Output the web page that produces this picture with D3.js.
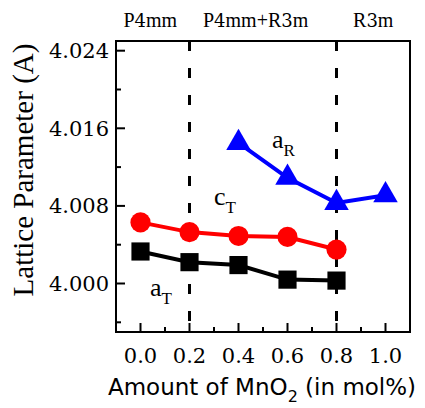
<!DOCTYPE html>
<html lang="en">
<head>
    <meta charset="UTF-8">
    <title>Lattice Parameter vs MnO2</title>
    <style>
        body {
            margin: 0;
            background-color: #fff;
        }
    </style>
    <script src="https://d3js.org/d3.v7.min.js"></script>
</head>
<body>
    <div id="chart"></div>
    <script>
        // MnO2 content (mol%)
        var xsT = [0.0, 0.2, 0.4, 0.6, 0.8];
        var xsR = [0.4, 0.6, 0.8, 1.0];
        // lattice parameters
        var aT = [4.0033, 4.0022, 4.0019, 4.0004, 4.0003];
        var cT = [4.0063, 4.0053, 4.0049, 4.0048, 4.0035];
        var aR = [4.0145, 4.0109, 4.0083, 4.0091];

        var xTicks = [0.0, 0.2, 0.4, 0.6, 0.8, 1.0];
        var yTicks = [4.000, 4.008, 4.016, 4.024];
        var phaseBounds = [0.2, 0.8];
        var phaseLabels = [
            {text: "P4mm", x: 0.04},
            {text: "P4mm+R3m", x: 0.47},
            {text: "R3m", x: 0.95}
        ];

        var serif = "'Liberation Serif', 'Times New Roman', serif";
        // digits come out sans in Liberation Serif here, so numbers use DejaVu Serif
        var numSerif = "'DejaVu Serif', serif";
        var sans = "'DejaVu Sans', Verdana, sans-serif";

        var width = 425, height = 408;
        var margin = {top: 41, right: 15, bottom: 76, left: 116};
        var iw = width - margin.left - margin.right;
        var ih = height - margin.top - margin.bottom;

        var svg = d3.select("#chart").append("svg")
            .attr("width", width)
            .attr("height", height)
            .style("font-family", serif);

        var g = svg.append("g")
            .attr("transform", "translate(" + margin.left + "," + margin.top + ")");

        var x = d3.scaleLinear().domain([-0.1, 1.1]).range([0, iw]);
        var y = d3.scaleLinear().domain([3.995, 4.025]).range([ih, 0]);

        // minor ticks
        var xMinor = [-0.1, 0.1, 0.3, 0.5, 0.7, 0.9, 1.1];
        var yMinor = [3.996, 4.004, 4.012, 4.020];

        // x axis ticks (inward)
        g.selectAll(".xmaj").data(xTicks).enter().append("line")
            .attr("x1", function(d) { return x(d); })
            .attr("x2", function(d) { return x(d); })
            .attr("y1", ih).attr("y2", ih - 9)
            .attr("stroke", "#000").attr("stroke-width", 2);
        g.selectAll(".xmin").data(xMinor).enter().append("line")
            .attr("x1", function(d) { return x(d); })
            .attr("x2", function(d) { return x(d); })
            .attr("y1", ih).attr("y2", ih - 5)
            .attr("stroke", "#000").attr("stroke-width", 2);
        g.selectAll(".xlab").data(xTicks).enter().append("text")
            .attr("x", function(d) { return x(d); })
            .attr("y", ih + 31)
            .attr("text-anchor", "middle")
            .style("font-family", numSerif)
            .style("font-size", "21px")
            .text(function(d) { return d3.format(".1f")(d); });

        // y axis ticks (inward)
        g.selectAll(".ymaj").data(yTicks).enter().append("line")
            .attr("x1", 0).attr("x2", 9)
            .attr("y1", function(d) { return y(d); })
            .attr("y2", function(d) { return y(d); })
            .attr("stroke", "#000").attr("stroke-width", 2);
        g.selectAll(".ymin").data(yMinor).enter().append("line")
            .attr("x1", 0).attr("x2", 5)
            .attr("y1", function(d) { return y(d); })
            .attr("y2", function(d) { return y(d); })
            .attr("stroke", "#000").attr("stroke-width", 2);
        g.selectAll(".ylab").data(yTicks).enter().append("text")
            .attr("x", -7)
            .attr("y", function(d) { return y(d); })
            .attr("dy", "0.36em")
            .attr("text-anchor", "end")
            .style("font-family", numSerif)
            .style("font-size", "21px")
            .text(function(d) { return d3.format(".3f")(d); });

        // phase boundaries
        g.selectAll(".bound").data(phaseBounds).enter().append("line")
            .attr("x1", function(d) { return x(d); })
            .attr("x2", function(d) { return x(d); })
            .attr("y1", 0).attr("y2", ih)
            .attr("stroke", "#000").attr("stroke-width", 3)
            .attr("stroke-dasharray", "10,17");

        // series
        var line = d3.line()
            .x(function(d) { return x(d[0]); })
            .y(function(d) { return y(d[1]); });

        function series(xs, ys, color, symbol, size) {
            var pts = xs.map(function(v, i) { return [v, ys[i]]; });
            g.append("path")
                .datum(pts)
                .attr("d", line)
                .attr("fill", "none")
                .attr("stroke", color)
                .attr("stroke-width", 4);
            g.selectAll(null).data(pts).enter().append("path")
                .attr("d", d3.symbol().type(symbol).size(size))
                .attr("transform", function(d) {
                    return "translate(" + x(d[0]) + "," + y(d[1]) + ")";
                })
                .attr("fill", color);
        }

        series(xsT, aT, "#000", d3.symbolSquare, 330);
        series(xsT, cT, "#ff0000", d3.symbolCircle, 320);
        series(xsR, aR, "#0000ff", d3.symbolTriangle, 260);

        // frame
        g.append("rect")
            .attr("width", iw).attr("height", ih)
            .attr("fill", "none")
            .attr("stroke", "#000").attr("stroke-width", 2);

        // series labels
        function label(base, sub, px, py) {
            var t = svg.append("text")
                .attr("x", px).attr("y", py)
                .style("font-family", serif)
                .style("font-size", "26px");
            t.append("tspan").text(base);
            t.append("tspan").attr("dy", 8).style("font-size", "17px").text(sub);
        }
        label("a", "R", 272, 148);
        label("c", "T", 214, 205);
        label("a", "T", 150, 296);

        // phase labels, digits split out into DejaVu Serif
        svg.selectAll(".phase").data(phaseLabels).enter().append("text")
            .attr("x", function(d) { return margin.left + x(d.x); })
            .attr("y", 27)
            .attr("text-anchor", "middle")
            .style("font-family", serif)
            .style("font-size", "20px")
            .each(function(d) {
                var t = d3.select(this);
                d.text.split(/(\d)/).filter(function(s) { return s.length; })
                    .forEach(function(s) {
                        var sp = t.append("tspan").text(s);
                        if (/\d/.test(s)) sp.style("font-family", numSerif).style("font-size", "18px");
                    });
            });

        // axis titles
        svg.append("text")
            .attr("transform", "translate(33,170) rotate(-90)")
            .attr("text-anchor", "middle")
            .style("font-family", serif)
            .style("font-size", "29px")
            .text("Lattice Parameter (A)");

        var xt = svg.append("text")
            .attr("x", 262)
            .attr("y", 395)
            .attr("text-anchor", "middle")
            .style("font-family", sans)
            .style("font-size", "23px");
        xt.append("tspan").text("Amount of MnO");
        xt.append("tspan").attr("dy", 7).style("font-size", "16px").text("2");
        xt.append("tspan").attr("dy", -7).text(" (in mol%)");
    </script>
</body>
</html>
